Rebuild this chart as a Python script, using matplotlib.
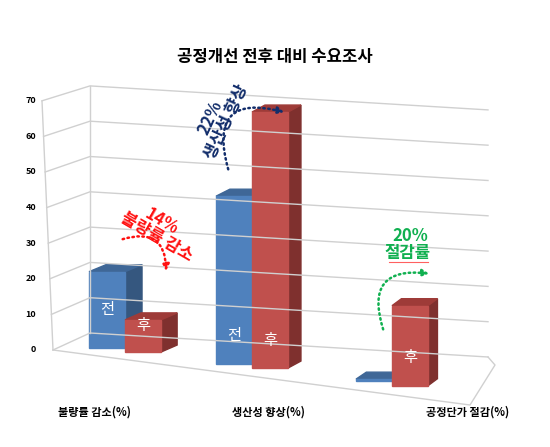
import matplotlib.pyplot as plt
from matplotlib.patches import Polygon

plt.rcParams['font.family'] = ['Noto Sans CJK KR', 'DejaVu Sans']

categories = ['불량률 감소(%)', '생산성 향상(%)', '공정단가 절감(%)']
before = [22, 43, 0.5]
after = [9, 64, 20]
yticks = [0, 10, 20, 30, 40, 50, 60, 70]

fig = plt.figure(figsize=(5.5, 4.47), dpi=100)
ax = fig.add_axes([0, 0, 1, 1])
ax.set_xlim(0, 550)
ax.set_ylim(447, 0)
ax.axis('off')

# pseudo-3d projection helpers (pixel space)
def base_y(x):
    return 346 + (x - 95) * 0.126

def scale(x):
    return min(3.45 + 0.0035 * (x - 90), 4.0)

def depth(x):
    return 17 - (x - 90) * 0.025, -7

# walls
grid = '#d0d0d0'
for v in yticks:
    lx0, ly0 = 53 - v * 0.157, 350 - v * 3.56
    bx0, by0 = 90, 333 - v * 3.53
    bx1, by1 = 488, 357 - v * 3.53
    ax.plot([lx0, bx0, bx1], [ly0, by0, by1], color=grid, lw=1)
    ax.text(36, ly0, str(v), ha='right', va='center', fontsize=6.5, fontweight='bold')
ax.plot([53, 42], [350, 101], color=grid, lw=1)
ax.plot([90, 90], [333, 86], color=grid, lw=1)
ax.plot([53, 470, 495, 488], [350, 405, 365, 357], color=grid, lw=1)

def bar(x0, w, v, front, top, side, label, label_y=None):
    yb = base_y(x0 + w / 2)
    h = v * scale(x0)
    yt = yb - h
    dx, dy = depth(x0)
    x1 = x0 + w
    ax.add_patch(Polygon([(x1, yb), (x1 + dx, yb + dy), (x1 + dx, yt + dy), (x1, yt)], color=side))
    ax.add_patch(Polygon([(x0, yt), (x0 + dx, yt + dy), (x1 + dx, yt + dy), (x1, yt)], color=top))
    ax.add_patch(Polygon([(x0, yb), (x0, yt), (x1, yt), (x1, yb)], color=front))
    if label:
        ly = label_y if label_y else yb - 28
        ax.text(x0 + w / 2, ly, label, color='white', ha='center', va='center', fontsize=11)

splits = [125, 252, 392]
w = 36
for i, s in enumerate(splits):
    bar(s - w, w, before[i], '#4F81BD', '#3F6797', '#35577F', '전' if before[i] > 5 else '', base_y(s) - 40 if i == 0 else None)
    bar(s, w, after[i], '#C0504D', '#9E3B38', '#7F302E', '후', base_y(s) - 24 if i == 0 else None)

for i, c in enumerate(categories):
    ax.text([95, 268, 468][i], 412, c, ha='center', va='center', fontsize=8, fontweight='bold')

ax.text(275, 57, '공정개선 전후 대비 수요조사', ha='center', va='center', fontsize=12, fontweight='bold')

# annotations
def curve(p0, p1, col, rad):
    ax.annotate('', xy=p1, xytext=p0,
                arrowprops=dict(arrowstyle='-|>', color=col, lw=1.8, ls=(0, (0.6, 1.4)),
                                connectionstyle='arc3,rad=%s' % rad, mutation_scale=10))

ax.text(162, 222, '14%', color='#FF1010', rotation=-30, ha='center', va='center', fontsize=12, fontweight='bold')
ax.text(157, 237, '불량률 감소', color='#FF1010', rotation=-30, ha='center', va='center', fontsize=12, fontweight='bold')
curve((120, 240), (166, 274), '#FF1010', -0.7)

ax.text(210, 118, '22%', color='#132E6B', rotation=65, ha='center', va='center', fontsize=12, fontweight='bold')
ax.text(227, 122, '생산성 향상', color='#132E6B', rotation=65, ha='center', va='center', fontsize=12, fontweight='bold')
curve((229, 172), (287, 113), '#132E6B', -0.9)

ax.text(410, 236, '20%', color='#10B050', ha='center', va='center', fontsize=12, fontweight='bold')
ax.text(408, 253, '절감률', color='#10B050', ha='center', va='center', fontsize=12, fontweight='bold')
ax.plot([389, 428], [262, 262], color='#FF6060', lw=0.8)
curve((384, 332), (432, 274), '#10B050', -0.8)

fig.savefig('out.png', dpi=100)
